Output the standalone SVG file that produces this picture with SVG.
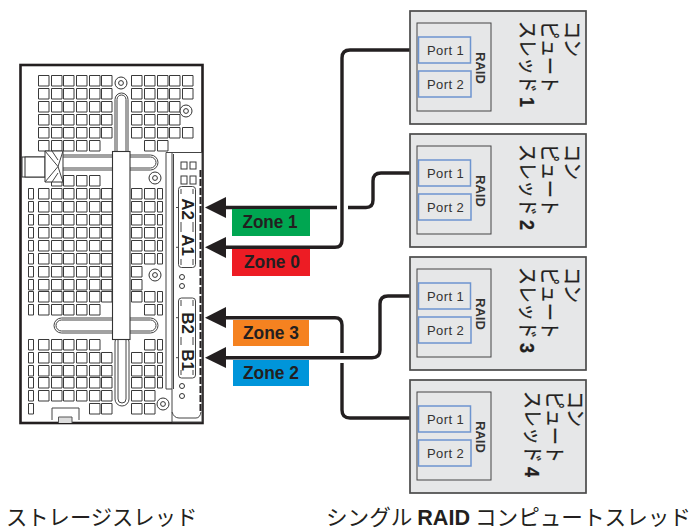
<svg xmlns="http://www.w3.org/2000/svg" width="693" height="530" viewBox="0 0 693 530">
<style>
.cell{fill:#fff;stroke:#3a3a3a;stroke-width:1}
.slot{fill:#fff;stroke:#444;stroke-width:1}
.line{fill:none;stroke:#444;stroke-width:1}
.frame{fill:#fff;stroke:#231f20;stroke-width:2.6}
.sled{fill:#e6e7e8;stroke:#4a4a4a;stroke-width:1.7}
.inner{fill:#e6e7e8;stroke:#444;stroke-width:1}
.port{fill:#e6e7e8;stroke:#6d94cf;stroke-width:1.5}
.ptxt{font:13px "Liberation Sans",Arial,sans-serif;fill:#333;letter-spacing:.4px}
.raid{font:bold 13px "Liberation Sans",Arial,sans-serif;fill:#333}
.jp{font:18px "Noto Sans CJK JP","Noto Sans",sans-serif;fill:#231f20;stroke:#231f20;stroke-width:.25}
.num{font-family:"Liberation Sans",Arial,sans-serif;font-weight:bold}
.cap{font:21.3px "Noto Sans CJK JP","Noto Sans",sans-serif;fill:#231f20}
.zone{font:bold 19px "Liberation Sans",Arial,sans-serif;fill:#231f20;text-anchor:middle}
.conn{font:bold 17px "Liberation Sans",Arial,sans-serif;fill:#231f20;text-anchor:middle}
.wire{fill:none;stroke:#231f20;stroke-width:3.4}
.head{fill:#231f20}
.scr{fill:#fff;stroke:#333;stroke-width:1}
</style>
<defs>
<path id="L6" class="cell" d="M.5 .5h10.5v10.5h-10.5zM13.500 .5h10.5v10.5h-10.5zM25.500 .5h10.5v10.5h-10.5zM38.500 .5h10.500v10.500h-10.500zM51.500 .5h10.500v10.500h-10.500zM63.500 .5h10.500v10.500h-10.500z"/>
<path id="L5" class="cell" d="M.5 .5h10.5v10.5h-10.5zM13.500 .5h10.5v10.5h-10.5zM25.500 .5h10.5v10.5h-10.5zM38.500 .5h10.500v10.500h-10.500zM51.500 .5h10.500v10.500h-10.500z"/>
<path id="L4" class="cell" d="M13.500 .5h10.5v10.5h-10.5zM25.500 .5h10.5v10.5h-10.5zM38.500 .5h10.500v10.500h-10.500zM51.500 .5h10.500v10.500h-10.500z"/>
<path id="R5" class="cell" d="M.5 .5h10.5v10.5h-10.5zM13.500 .5h10.5v10.5h-10.5zM26.500 .5h10.5v10.5h-10.5zM38.500 .5h10.500v10.500h-10.500zM51.500 .5h10.500v10.500h-10.500z"/>
<path id="R4" class="cell" d="M.5 .5h10.5v10.5h-10.5zM13.500 .5h10.5v10.5h-10.5zM26.500 .5h10.5v10.5h-10.5zM38.500 .5h10.500v10.500h-10.500z"/>
<path id="R2" class="cell" d="M.5 .5h10.5v10.5h-10.5zM13.500 .5h10.5v10.5h-10.5z"/>
<path id="C1" class="cell" d="M.5 .5h10.5v10.5h-10.5z"/>
<path id="N1" class="cell" d="M.5 .5h5v10.5h-5z"/>
<g id="screw"><circle class="scr" r="6"/><circle class="scr" r="2.4"/></g>
</defs>

<g id="storage-sled">
<rect class="frame" x="20.500" y="65" width="182" height="358"/>
<use href="#L6" x="38" y="75"/><use href="#L6" x="38" y="88"/><use href="#L6" x="38" y="101"/><use href="#L6" x="38" y="114"/><use href="#L6" x="38" y="127"/><use href="#L5" x="38" y="140"/>
<use href="#R5" x="131" y="75"/><use href="#R5" x="131" y="88"/><use href="#R4" x="131" y="101"/><use href="#R4" x="131" y="114"/><use href="#R5" x="131" y="127"/><use href="#R2" x="144" y="140"/>
<use href="#L4" x="38" y="175"/>
<use href="#L6" x="38" y="188"/><use href="#L6" x="38" y="201"/><use href="#L6" x="38" y="214"/><use href="#L6" x="38" y="227"/><use href="#L6" x="38" y="240"/><use href="#L6" x="38" y="253"/><use href="#L6" x="38" y="266"/><use href="#L6" x="38" y="279"/><use href="#L6" x="38" y="291"/><use href="#L5" x="38" y="304"/>
<use href="#N1" x="28" y="188"/><use href="#N1" x="28" y="201"/><use href="#N1" x="28" y="214"/><use href="#N1" x="28" y="227"/><use href="#N1" x="28" y="240"/><use href="#N1" x="28" y="253"/><use href="#N1" x="28" y="266"/><use href="#N1" x="28" y="279"/><use href="#N1" x="28" y="291"/><use href="#N1" x="28" y="304"/>
<use href="#R2" x="131" y="188"/><use href="#R2" x="131" y="201"/><use href="#R2" x="131" y="214"/><use href="#R2" x="131" y="227"/><use href="#R2" x="131" y="240"/><use href="#R2" x="131" y="253"/><use href="#C1" x="131" y="266"/><use href="#C1" x="131" y="279"/><use href="#R2" x="131" y="291"/><use href="#C1" x="144" y="304"/>
<use href="#N1" x="157" y="188"/><use href="#N1" x="157" y="201"/><use href="#N1" x="157" y="214"/><use href="#N1" x="157" y="227"/><use href="#N1" x="157" y="240"/><use href="#N1" x="157" y="253"/><use href="#N1" x="157" y="291"/><use href="#N1" x="157" y="304"/>
<use href="#L5" x="38" y="339"/><use href="#L6" x="38" y="352"/><use href="#L6" x="38" y="365"/><use href="#L6" x="38" y="377"/><use href="#L6" x="38" y="390"/><use href="#C1" x="89" y="403"/><use href="#C1" x="101" y="403"/>
<use href="#N1" x="28" y="339"/><use href="#N1" x="28" y="352"/><use href="#N1" x="28" y="365"/><use href="#N1" x="28" y="377"/><use href="#N1" x="28" y="390"/><use href="#N1" x="28" y="403"/>
<use href="#C1" x="144" y="339"/><use href="#R2" x="131" y="352"/><use href="#R2" x="131" y="365"/><use href="#R2" x="131" y="377"/><use href="#R2" x="131" y="390"/><use href="#R2" x="131" y="403"/>
<use href="#N1" x="157" y="339"/><use href="#N1" x="157" y="352"/><use href="#N1" x="157" y="365"/><use href="#N1" x="157" y="377"/>
<rect class="slot" x="115" y="93" width="13" height="70" rx="6.500"/>
<rect class="line" x="117" y="95" width="9" height="70" rx="4.500"/>
<rect class="slot" x="55" y="155" width="103" height="15" rx="7.500"/>
<rect class="line" x="57" y="157" width="99" height="11" rx="5.500"/>
<rect class="slot" x="54" y="318" width="104" height="15" rx="7.500"/>
<rect class="line" x="56" y="320" width="100" height="11" rx="5.500"/>
<rect class="slot" x="115" y="335" width="14" height="71" rx="7"/>
<rect class="line" x="118" y="335" width="8" height="68" rx="4"/>
<rect fill="#fff" stroke="#333" stroke-width="1.100" x="112.500" y="151.500" width="17.500" height="188"/>
<rect fill="#fff" stroke="#333" stroke-width="1" x="22" y="157" width="23" height="20"/>
<rect fill="#fff" stroke="#333" stroke-width="1" x="25" y="157" width="20" height="20"/>
<path fill="#fff" stroke="#333" stroke-width="1" d="M45 151H63V182H45Z"/>
<path class="line" d="M45 151L58 166.500L45 182M63 151L58 166.500L63 182M52 151L58 160M52 182L58 173"/>
<use href="#screw" x="121" y="83"/>
<use href="#screw" x="186" y="111"/>
<use href="#screw" x="155" y="178"/>
<use href="#screw" x="155" y="275"/>
<use href="#screw" x="163" y="404"/>
<path fill="#fff" stroke="#444" stroke-width="1" d="M166 152.500V389H172V422H202V152.500Z"/>
<path class="line" d="M172 152.500V389M173.500 154V389M172 412Q174 418 179 418H196Q200 418 201 412"/>
<path d="M200.500 170V412" stroke="#231f20" stroke-width="2" stroke-dasharray="7 2" fill="none"/>
<rect class="cell" x="181" y="162" width="6" height="7"/><rect class="cell" x="190" y="162" width="6" height="7"/>
<rect class="cell" x="181" y="176" width="6" height="8"/><rect class="cell" x="190" y="176" width="6" height="8"/>
<rect class="slot" stroke-width="1.200" x="178.500" y="186.500" width="17" height="81" rx="3"/>
<rect class="slot" stroke-width="1.200" x="178.500" y="298" width="17" height="80" rx="3"/>
<path class="line" d="M176 207.500H178M176 247.300H178M176 317.700H178M176 357.700H178M181 189V194M193 189V194M181 222V232M193 222V232M181 259V265M193 259V265M181 300V306M193 300V306M181 337V345M193 337V345M181 370V375M193 370V375"/>
<text class="conn" transform="translate(182,209) rotate(90)">A2</text>
<text class="conn" transform="translate(182,245) rotate(90)">A1</text>
<text class="conn" transform="translate(182,323) rotate(90)">B2</text>
<text class="conn" transform="translate(182,360) rotate(90)">B1</text>
<circle class="scr" cx="182" cy="277" r="2.500"/><circle class="scr" cx="182" cy="286" r="2.500"/>
<circle class="scr" cx="182" cy="386" r="2.500"/><circle class="scr" cx="182" cy="396" r="2.500"/>
<path class="line" fill="#fff" d="M52 420V408H79V420"/>
<path fill="#ddd" stroke="#555" stroke-width="1" d="M58.500 423V417H72V423"/>
</g>

<g id="connectors">
<path class="wire" d="M226 207.500H337M348 207.500H366Q373 207.500 373 200V181Q373 173 381 173H411"/>
<path class="wire" d="M226 247.300H335Q342 247.300 342 240V58Q342 50 350 50H413"/>
<path class="wire" d="M226 317.700H335Q342 317.700 342 325V353M342 363V410Q342 418 350 418H413"/>
<path class="wire" d="M226 357.700H372Q380 357.700 380 350V304Q380 296 388 296H413"/>
<path class="head" d="M205 207.500L226 197V218Z"/>
<path class="head" d="M205 247.300L226 237V258Z"/>
<path class="head" d="M205 317.700L226 307V328Z"/>
<path class="head" d="M205 357.700L226 347V368Z"/>
</g>

<g id="zone-1"><rect x="232" y="209" width="78" height="27" fill="#00a651"/><text class="zone" x="270" y="228" textLength="55" lengthAdjust="spacingAndGlyphs">Zone 1</text></g>
<g id="zone-0"><rect x="232" y="249" width="78" height="27" fill="#ed1c24"/><text class="zone" x="272" y="268" textLength="56" lengthAdjust="spacingAndGlyphs">Zone 0</text></g>
<g id="zone-3"><rect x="233" y="320" width="76" height="26" fill="#f58220"/><text class="zone" x="271" y="339" textLength="56" lengthAdjust="spacingAndGlyphs">Zone 3</text></g>
<g id="zone-2"><rect x="233" y="360" width="76" height="26" fill="#0095da"/><text class="zone" x="271" y="379" textLength="56" lengthAdjust="spacingAndGlyphs">Zone 2</text></g>

<g id="sled-1">
<rect class="sled" x="410" y="11" width="176" height="113"/>
<rect class="inner" x="417" y="23" width="74" height="88"/>
<rect class="port" x="418.500" y="37" width="52" height="26"/><text class="ptxt" x="427" y="55">Port 1</text>
<rect class="port" x="418.500" y="71" width="52.500" height="26"/><text class="ptxt" x="427" y="89">Port 2</text>
<text class="raid" transform="translate(476,52) rotate(90)">RAID</text>
<text class="jp" transform="translate(565,21) rotate(90) scale(1,1.120)">コン</text>
<text class="jp" transform="translate(542,21) rotate(90) scale(1,1.120)">ピュート</text>
<text class="jp" transform="translate(520,21) rotate(90) scale(1,1.120)">スレッド <tspan class="num">1</tspan></text>
</g>
<g id="sled-2">
<rect class="sled" x="410" y="134" width="176" height="113"/>
<rect class="inner" x="417" y="146" width="74" height="88"/>
<rect class="port" x="418.500" y="160" width="52" height="26"/><text class="ptxt" x="427" y="178">Port 1</text>
<rect class="port" x="418.500" y="194" width="52.500" height="26"/><text class="ptxt" x="427" y="212">Port 2</text>
<text class="raid" transform="translate(476,175) rotate(90)">RAID</text>
<text class="jp" transform="translate(565,144) rotate(90) scale(1,1.120)">コン</text>
<text class="jp" transform="translate(542,144) rotate(90) scale(1,1.120)">ピュート</text>
<text class="jp" transform="translate(520,144) rotate(90) scale(1,1.120)">スレッド <tspan class="num">2</tspan></text>
</g>
<g id="sled-3">
<rect class="sled" x="410" y="257" width="176" height="113"/>
<rect class="inner" x="417" y="269" width="74" height="88"/>
<rect class="port" x="418.500" y="283" width="52" height="26"/><text class="ptxt" x="427" y="301">Port 1</text>
<rect class="port" x="418.500" y="317" width="52.500" height="26"/><text class="ptxt" x="427" y="335">Port 2</text>
<text class="raid" transform="translate(476,298) rotate(90)">RAID</text>
<text class="jp" transform="translate(565,267) rotate(90) scale(1,1.120)">コン</text>
<text class="jp" transform="translate(542,267) rotate(90) scale(1,1.120)">ピュート</text>
<text class="jp" transform="translate(520,267) rotate(90) scale(1,1.120)">スレッド <tspan class="num">3</tspan></text>
</g>
<g id="sled-4">
<rect class="sled" x="410" y="380" width="176" height="113"/>
<rect class="inner" x="417" y="392" width="74" height="88"/>
<rect class="port" x="418.500" y="406" width="52" height="26"/><text class="ptxt" x="427" y="424">Port 1</text>
<rect class="port" x="418.500" y="440" width="52.500" height="26"/><text class="ptxt" x="427" y="458">Port 2</text>
<text class="raid" transform="translate(476,421) rotate(90)">RAID</text>
<text class="jp" transform="translate(568,391) rotate(90) scale(1,1.120)">コン</text>
<text class="jp" transform="translate(547,391) rotate(90) scale(1,1.120)">ピュート</text>
<text class="jp" transform="translate(525,391) rotate(90) scale(1,1.120)">スレッド <tspan class="num">4</tspan></text>
</g>

<g id="captions">
<text class="cap" x="6" y="525">ストレージスレッド</text>
<text class="cap" x="326" y="525" textLength="365" lengthAdjust="spacingAndGlyphs">シングル <tspan class="num">RAID</tspan> コンピュートスレッド</text>
</g>
</svg>
